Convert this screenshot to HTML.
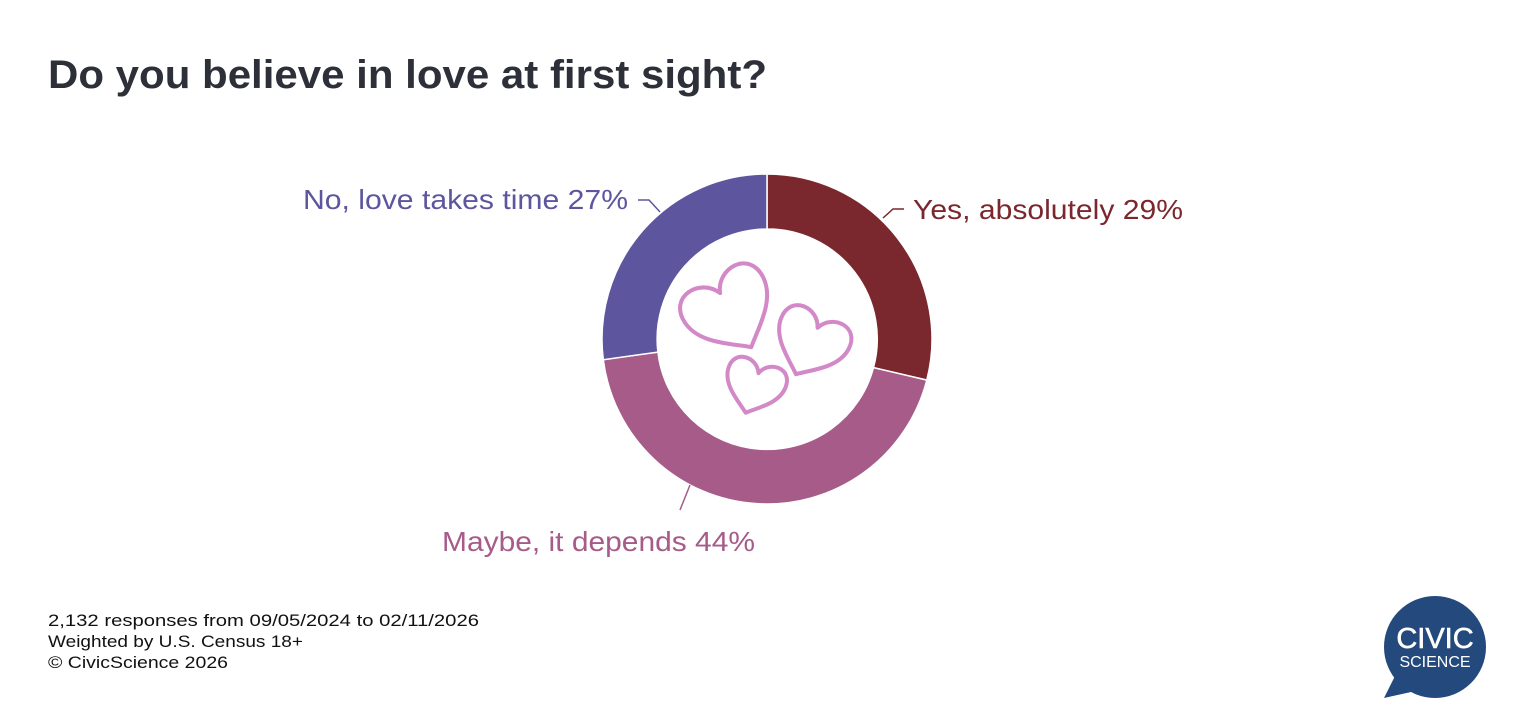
<!DOCTYPE html>
<html><head><style>
body{margin:0;background:#fff;width:1526px;height:716px;overflow:hidden;font-family:"Liberation Sans",Arial,sans-serif}
</style></head><body>
<svg width="1526" height="716" viewBox="0 0 1526 716" xmlns="http://www.w3.org/2000/svg">
<text x="48" y="88" font-size="40" font-weight="bold" fill="#2d3038" font-family="Liberation Sans, sans-serif" textLength="719" lengthAdjust="spacingAndGlyphs">Do you believe in love at first sight?</text>
<g stroke="#fff" stroke-width="1.5">
<path d="M767,174 A165,165 0 0 1 926.8,380.1 L873.5,367.6 A110,110 0 0 0 767,229 Z" fill="#7b272e"/>
<path d="M926.8,380.1 A165,165 0 0 1 603.3,359.7 L657.9,352.1 A110,110 0 0 0 873.5,367.6 Z" fill="#a65b89"/>
<path d="M603.3,359.7 A165,165 0 0 1 767,174 L767,229 A110,110 0 0 0 657.9,352.1 Z" fill="#5d569f"/>
</g>
<g fill="none" stroke="#d389c7" stroke-width="4" stroke-linejoin="round">
<path transform="translate(731,312) rotate(-30) scale(78)" stroke-width="0.052" d="M0 -0.28 C-0.12 -0.58 -0.6 -0.58 -0.58 -0.18 C-0.56 0.15 -0.2 0.35 0 0.52 C0.2 0.35 0.56 0.15 0.58 -0.18 C0.6 -0.58 0.12 -0.58 0 -0.28 Z"/>
<path transform="translate(810,344) rotate(25) scale(64)" stroke-width="0.063" d="M0 -0.28 C-0.12 -0.58 -0.6 -0.58 -0.58 -0.18 C-0.56 0.15 -0.2 0.35 0 0.52 C0.2 0.35 0.56 0.15 0.58 -0.18 C0.6 -0.58 0.12 -0.58 0 -0.28 Z"/>
<path transform="translate(754,387) rotate(18) scale(52)" stroke-width="0.077" d="M0 -0.28 C-0.12 -0.58 -0.6 -0.58 -0.58 -0.18 C-0.56 0.15 -0.2 0.35 0 0.52 C0.2 0.35 0.56 0.15 0.58 -0.18 C0.6 -0.58 0.12 -0.58 0 -0.28 Z"/>
</g>
<g fill="none" stroke-width="1.5">
<path d="M883,218 L893,209 L904,209" stroke="#7b272e"/>
<path d="M638,200 L649,200 L660,212" stroke="#5d569f"/>
<path d="M690,485 L680,510" stroke="#a65b89"/>
</g>
<g font-size="28" font-family="Liberation Sans, sans-serif">
<text x="913" y="219" fill="#7b272e" textLength="270" lengthAdjust="spacingAndGlyphs">Yes, absolutely 29%</text>
<text x="303" y="209" fill="#5d569f" textLength="325" lengthAdjust="spacingAndGlyphs">No, love takes time 27%</text>
<text x="442" y="551" fill="#a65b89" textLength="313" lengthAdjust="spacingAndGlyphs">Maybe, it depends 44%</text>
</g>
<g font-size="17" fill="#111" font-family="Liberation Sans, sans-serif">
<text x="48" y="626" textLength="431" lengthAdjust="spacingAndGlyphs">2,132 responses from 09/05/2024 to 02/11/2026</text>
<text x="48" y="647" textLength="255" lengthAdjust="spacingAndGlyphs">Weighted by U.S. Census 18+</text>
<text x="48" y="668" textLength="180" lengthAdjust="spacingAndGlyphs">© CivicScience 2026</text>
</g>
<circle cx="1435" cy="647" r="51" fill="#24497c"/>
<path d="M1397,672 L1384,698 L1420,690 Z" fill="#24497c"/>
<text x="1435" y="648" font-size="29" fill="#fff" text-anchor="middle" font-family="Liberation Sans, sans-serif" stroke="#fff" stroke-width="0.6">CIVIC</text>
<text x="1435" y="667" font-size="16" fill="#fff" text-anchor="middle" font-family="Liberation Sans, sans-serif">SCIENCE</text>
</svg>
</body></html>
